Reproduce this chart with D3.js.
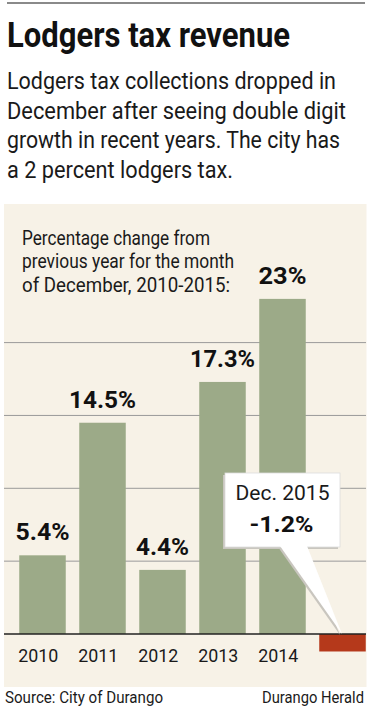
<!DOCTYPE html>
<html>
<head>
<meta charset="utf-8">
<script src="https://cdn.jsdelivr.net/npm/d3@7"></script>
<style>
  body { margin: 0; background: #fff; }
  text { font-family: "Liberation Sans Narrow", "Roboto", "Liberation Sans", sans-serif; }
</style>
</head>
<body>
<div id="chart"></div>
<script>
// chart data
var years = ['2010', '2011', '2012', '2013', '2014', '2015'];
var changes = [5.4, 14.5, 4.4, 17.3, 23, -1.2];
var valueLabels = ['5.4%', '14.5%', '4.4%', '17.3%', '23%', ''];
var yearLabels = ['2010', '2011', '2012', '2013', '2014', ''];
var gridTicks = [5, 10, 15, 20];

var subtitleLines = [
  'Lodgers tax collections dropped in',
  'December after seeing double digit',
  'growth in recent years. The city has',
  'a 2 percent lodgers tax.'
];
var noteLines = [
  'Percentage change from',
  'previous year for the month',
  'of December, 2010-2015:'
];

var width = 369;
var height = 714;

var svg = d3.select('#chart').append('svg')
  .attr('width', width)
  .attr('height', height);

// top rule
svg.append('line')
  .attr('x1', 7).attr('x2', 365)
  .attr('y1', 3).attr('y2', 3)
  .attr('stroke', '#8a8a8a')
  .attr('stroke-width', 2);

// title
svg.append('text')
  .attr('x', 7).attr('y', 47)
  .attr('font-size', 35)
  .attr('font-weight', 'bold')
  .attr('fill', '#111')
  .attr('textLength', 283)
  .attr('lengthAdjust', 'spacingAndGlyphs')
  .text('Lodgers tax revenue');

var subLengths = [329, 339, 333, 226];
svg.selectAll('.sub')
  .data(subtitleLines)
  .enter().append('text')
  .attr('class', 'sub')
  .attr('x', 7)
  .attr('y', function(d, i) { return 89 + i * 29.7; })
  .attr('font-size', 23)
  .attr('fill', '#1a1a1a')
  .attr('textLength', function(d, i) { return subLengths[i]; })
  .attr('lengthAdjust', 'spacingAndGlyphs')
  .text(function(d) { return d; });

// beige panel
svg.append('rect')
  .attr('x', 4).attr('y', 204)
  .attr('width', 362.5).attr('height', 483)
  .attr('fill', '#f7f2e7');

var noteLengths = [188, 212, 208];
svg.selectAll('.note')
  .data(noteLines)
  .enter().append('text')
  .attr('class', 'note')
  .attr('x', 22)
  .attr('y', function(d, i) { return 245 + i * 23.3; })
  .attr('font-size', 20)
  .attr('fill', '#1a1a1a')
  .attr('textLength', function(d, i) { return noteLengths[i]; })
  .attr('lengthAdjust', 'spacingAndGlyphs')
  .text(function(d) { return d; });

// scales
var x = d3.scaleBand()
  .domain(years)
  .range([12.5, 372.5])
  .paddingInner(0.225)
  .paddingOuter(0.1125);

var y = d3.scaleLinear()
  .domain([0, 20])
  .range([634, 342.6]);

// gridlines
svg.selectAll('.grid')
  .data(gridTicks)
  .enter().append('line')
  .attr('class', 'grid')
  .attr('x1', 4).attr('x2', 366)
  .attr('y1', function(d) { return y(d); })
  .attr('y2', function(d) { return y(d); })
  .attr('stroke', '#9a9a9a')
  .attr('stroke-width', 1);

// bars
svg.selectAll('.bar')
  .data(changes)
  .enter().append('rect')
  .attr('class', 'bar')
  .attr('x', function(d, i) { return x(years[i]); })
  .attr('y', function(d) { return y(Math.max(0, d)); })
  .attr('width', x.bandwidth())
  .attr('height', function(d) { return Math.abs(y(d) - y(0)); })
  .attr('fill', function(d) { return d < 0 ? '#b5391b' : '#9caa88'; });

// zero line
svg.append('line')
  .attr('x1', 4).attr('x2', 366)
  .attr('y1', y(0)).attr('y2', y(0))
  .attr('stroke', '#222')
  .attr('stroke-width', 1.5);

// value labels
var valueLengths = [54, 67, 53, 65, 48, 0];
svg.selectAll('.val')
  .data(changes)
  .enter().filter(function(d, i) { return valueLabels[i] !== ''; })
  .append('text')
  .attr('class', 'val')
  .attr('x', function(d, i) { return x(years[i]) + x.bandwidth() / 2; })
  .attr('y', function(d) { return y(d) - 15; })
  .attr('text-anchor', 'middle')
  .attr('font-size', 23)
  .attr('font-weight', 'bold')
  .attr('fill', '#111')
  .attr('textLength', function(d, i) { return valueLengths[i]; })
  .attr('lengthAdjust', 'spacingAndGlyphs')
  .text(function(d, i) { return valueLabels[i]; });

// year labels
svg.selectAll('.year')
  .data(yearLabels.filter(function(d) { return d !== ''; }))
  .enter().append('text')
  .attr('class', 'year')
  .attr('x', function(d) { return x(d) - 1; })
  .attr('y', 662)
  .attr('font-size', 19)
  .attr('fill', '#1a1a1a')
  .attr('textLength', 40)
  .attr('lengthAdjust', 'spacingAndGlyphs')
  .text(function(d) { return d; });

// callout for 2015
var last = years.length - 1;
var tipX = x(years[last]) + x.bandwidth() / 2 - 0.5;
var tipY = y(0);
var box = { x: 225, y: 473, w: 115, h: 74 };
var tail = [[box.x + 55, box.y + box.h - 1], [box.x + 82, box.y + box.h - 1], [tipX, tipY]];

var callout = svg.append('g');
callout.append('rect')
  .attr('x', box.x - 2).attr('y', box.y + 2)
  .attr('width', box.w).attr('height', box.h)
  .attr('fill', '#c9c6bf');
callout.append('polygon')
  .attr('points', tail.map(function(p) { return (p[0] - 2) + ',' + (p[1] + 1); }).join(' '))
  .attr('fill', '#c9c6bf');
callout.append('rect')
  .attr('x', box.x).attr('y', box.y)
  .attr('width', box.w).attr('height', box.h)
  .attr('fill', '#fff')
  .attr('stroke', '#ddd')
  .attr('stroke-width', 0.8);
callout.append('polygon')
  .attr('points', tail.map(function(p) { return p.join(','); }).join(' '))
  .attr('fill', '#fff');

callout.append('text')
  .attr('x', box.x + box.w / 2).attr('y', 500)
  .attr('text-anchor', 'middle')
  .attr('font-size', 20)
  .attr('fill', '#1a1a1a')
  .attr('textLength', 94)
  .attr('lengthAdjust', 'spacingAndGlyphs')
  .text('Dec. ' + years[last]);
callout.append('text')
  .attr('x', box.x + box.w / 2 - 1).attr('y', 532)
  .attr('text-anchor', 'middle')
  .attr('font-size', 22)
  .attr('font-weight', 'bold')
  .attr('fill', '#111')
  .attr('textLength', 64)
  .attr('lengthAdjust', 'spacingAndGlyphs')
  .text(changes[last] + '%');

// footer
svg.append('text')
  .attr('x', 5).attr('y', 703)
  .attr('font-size', 17)
  .attr('fill', '#1a1a1a')
  .attr('textLength', 158)
  .attr('lengthAdjust', 'spacingAndGlyphs')
  .text('Source: City of Durango');
// right credit: small size, stretched vertically so it still ends at the panel edge
svg.append('text')
  .attr('transform', 'translate(262,703) scale(1,1.2)')
  .attr('font-size', 14)
  .attr('fill', '#1a1a1a')
  .attr('textLength', 102)
  .attr('lengthAdjust', 'spacingAndGlyphs')
  .text('Durango Herald');
</script>
</body>
</html>
